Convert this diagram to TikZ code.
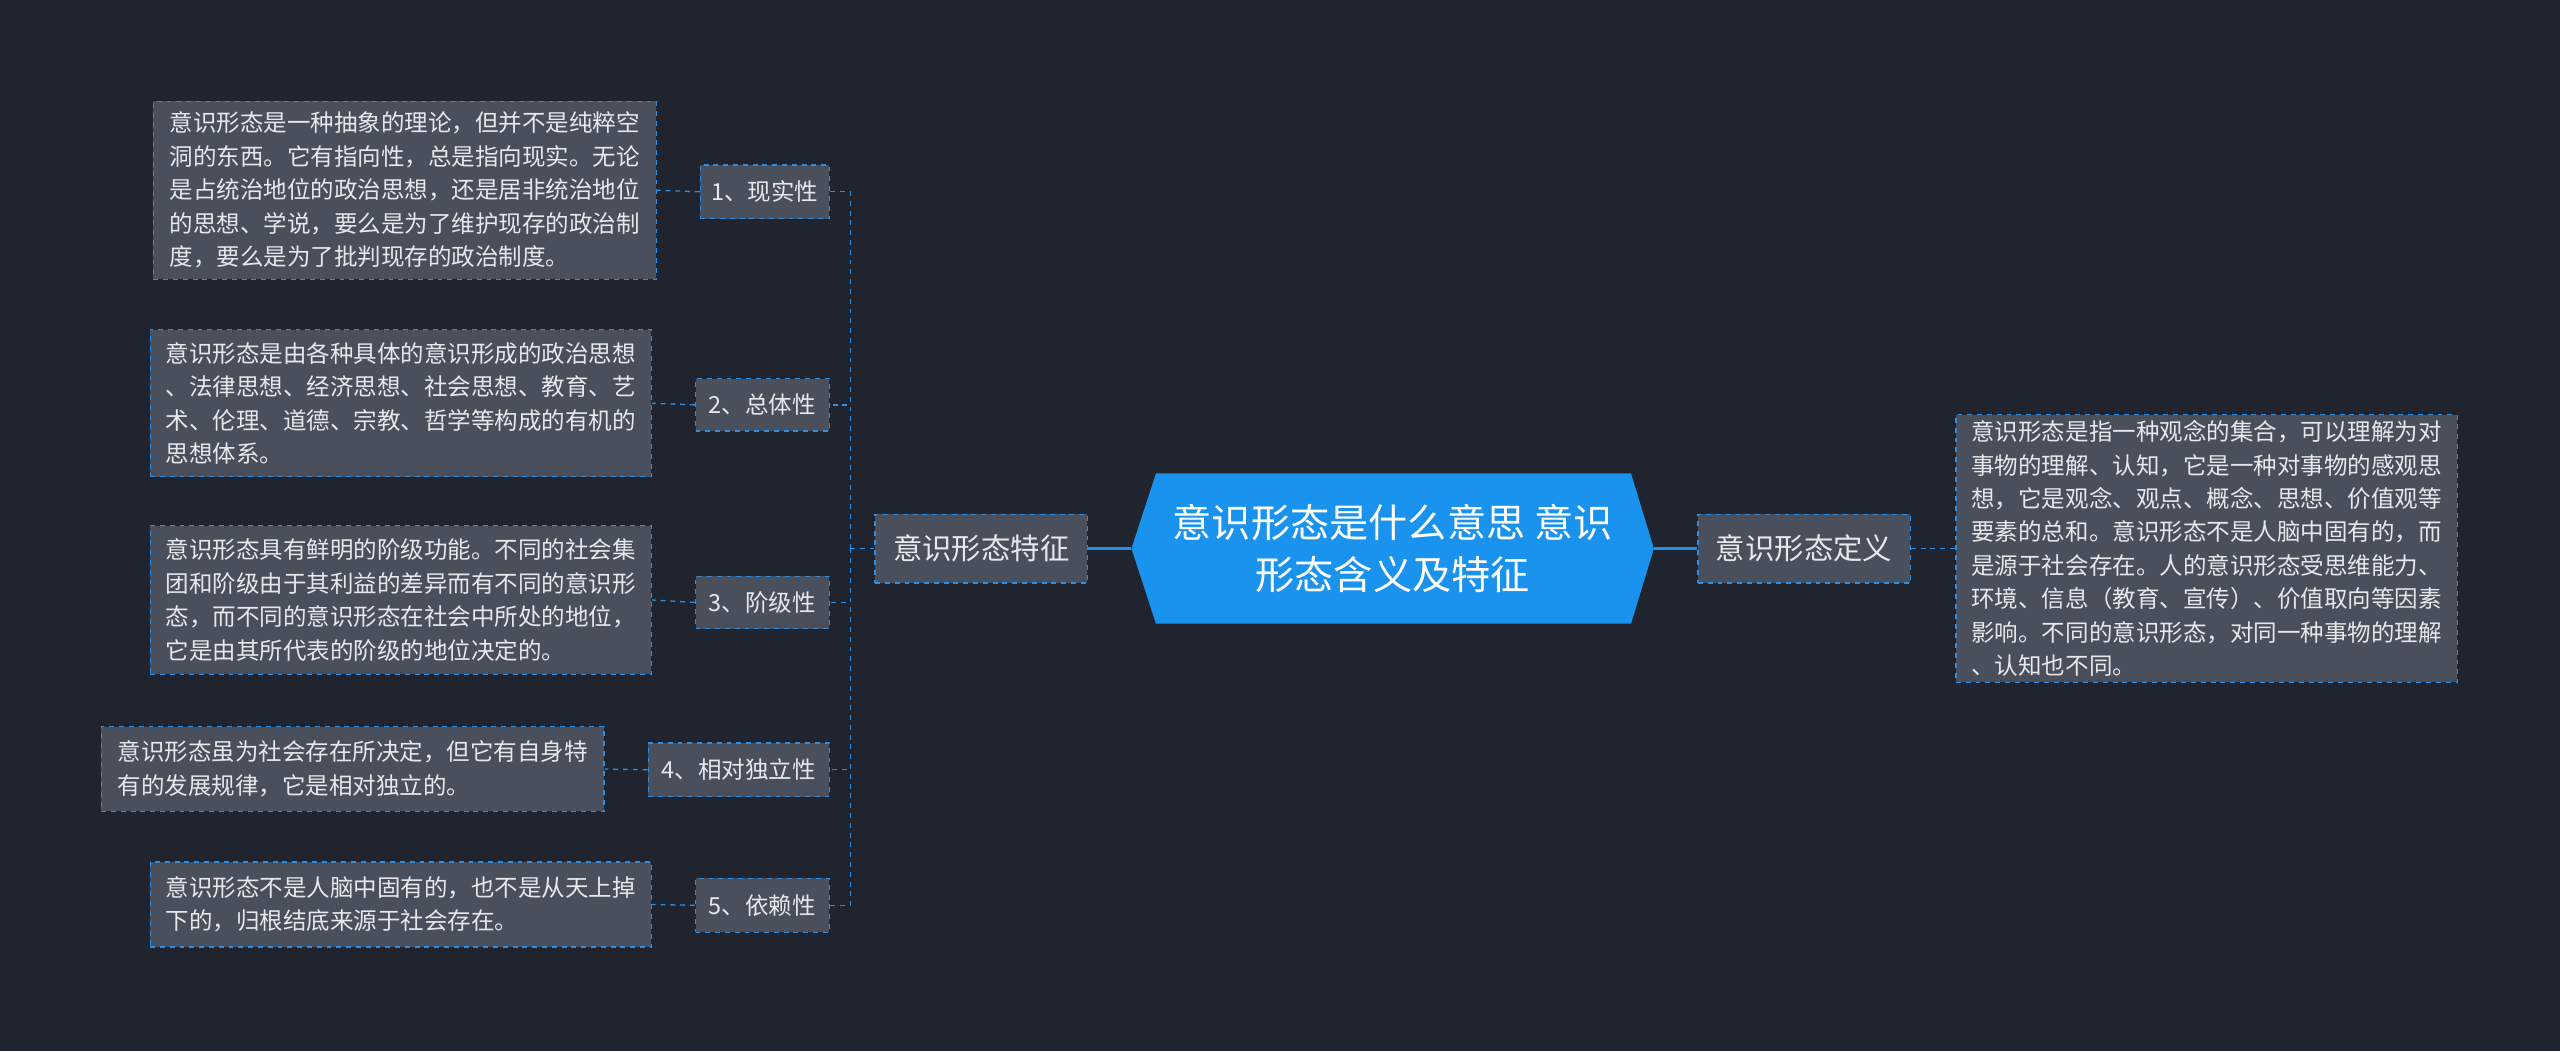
\documentclass[tikz,border=0pt]{standalone}
\usepackage{fontspec}
\setmainfont{Noto Sans CJK SC}
\begin{document}
\begin{tikzpicture}[x=1pt,y=-1pt,
  bx/.style={draw=lb,dashed,fill=boxg,text=txt,inner sep=0pt,line width=0.8pt},
  tb/.style={bx,font=\fontsize{14.4}{20.5}\selectfont,align=left},
  lab/.style={bx,font=\fontsize{14.4}{16}\selectfont},
  cn/.style={draw=lb,dashed,line width=0.8pt}]
\definecolor{bg}{HTML}{20242F}
\definecolor{lb}{HTML}{2A8FE6}
\definecolor{boxg}{HTML}{4A4F5C}
\definecolor{txt}{HTML}{E6E8EC}
\definecolor{cblue}{HTML}{1A93EE}
\fill[bg] (0,0) rectangle (1568,644);
\useasboundingbox (0,0) rectangle (1568,644);
% center
\fill[cblue] (693,336)--(708,290)--(999,290)--(1013,336)--(999,382)--(708,382)--cycle;
\node[minimum width=320pt,minimum height=92pt,inner sep=0pt,text=white,align=center,font=\fontsize{24}{32}\selectfont] (c) at (853,336) {意识形态是什么意思 意识\\形态含义及特征};
% right
\node[bx,minimum width=130pt,minimum height=42pt,font=\fontsize{18}{20}\selectfont] (def) at (1105,336) {意识形态定义};
\node[tb,minimum width=307pt,minimum height=164pt] (deft) at (1351.5,336) {意识形态是指一种观念的集合，可以理解为对\\事物的理解、认知，它是一种对事物的感观思\\想，它是观念、观点、概念、思想、价值观等\\要素的总和。意识形态不是人脑中固有的，而\\是源于社会存在。人的意识形态受思维能力、\\环境、信息（教育、宣传）、价值取向等因素\\影响。不同的意识形态，对同一种事物的理解\\、认知也不同。};
% left
\node[bx,minimum width=130pt,minimum height=42pt,font=\fontsize{18}{20}\selectfont] (feat) at (601,336) {意识形态特征};
\node[lab,minimum width=79pt,minimum height=33pt] (i1) at (468.5,117.5) {1、现实性};
\node[lab,minimum width=82pt,minimum height=32pt] (i2) at (467,248) {2、总体性};
\node[lab,minimum width=82pt,minimum height=32pt] (i3) at (467,369) {3、阶级性};
\node[lab,minimum width=111pt,minimum height=33pt] (i4) at (452.5,471.5) {4、相对独立性};
\node[lab,minimum width=82pt,minimum height=33pt] (i5) at (467,554.5) {5、依赖性};
\node[tb,minimum width=308pt,minimum height=109pt] (t1) at (248,116.5) {意识形态是一种抽象的理论，但并不是纯粹空\\洞的东西。它有指向性，总是指向现实。无论\\是占统治地位的政治思想，还是居非统治地位\\的思想、学说，要么是为了维护现存的政治制\\度，要么是为了批判现存的政治制度。};
\node[tb,minimum width=307pt,minimum height=90pt] (t2) at (245.5,247) {意识形态是由各种具体的意识形成的政治思想\\、法律思想、经济思想、社会思想、教育、艺\\术、伦理、道德、宗教、哲学等构成的有机的\\思想体系。};
\node[tb,minimum width=307pt,minimum height=91pt] (t3) at (245.5,367.5) {意识形态具有鲜明的阶级功能。不同的社会集\\团和阶级由于其利益的差异而有不同的意识形\\态，而不同的意识形态在社会中所处的地位，\\它是由其所代表的阶级的地位决定的。};
\node[tb,minimum width=308pt,minimum height=52pt] (t4) at (216,471) {意识形态虽为社会存在所决定，但它有自身特\\有的发展规律，它是相对独立的。};
\node[tb,minimum width=307pt,minimum height=52pt] (t5) at (245.5,554) {意识形态不是人脑中固有的，也不是从天上掉\\下的，归根结底来源于社会存在。};
% connectors
\coordinate (sp) at (521,336);
\draw[lb,line width=2.2pt] (c.east) -- (def.west);
\draw[lb,line width=2.2pt] (c.west) -- (feat.east);
\draw[cn] (def.east) -- (deft.west);
\draw[cn] (feat.west) -- (sp);
\foreach \i in {1,...,5}{
  \draw[cn] (sp) |- (i\i.east);
  \draw[cn] (i\i.west) -- (t\i.east);
}
\end{tikzpicture}
\end{document}
